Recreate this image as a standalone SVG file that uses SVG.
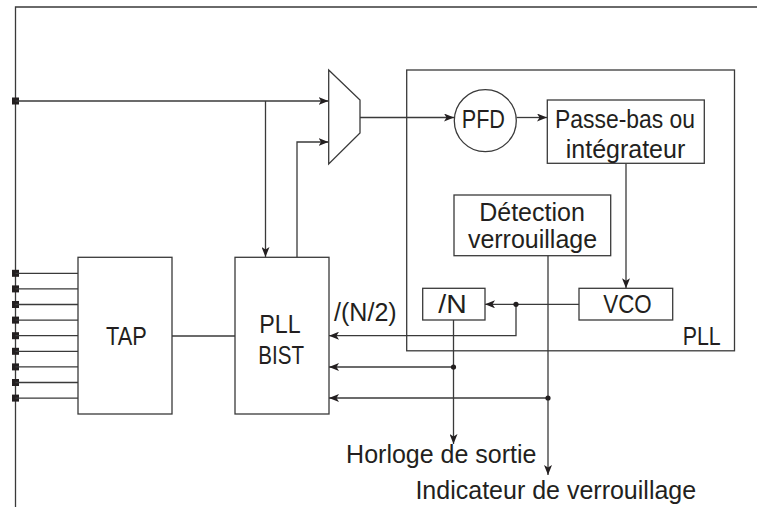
<svg xmlns="http://www.w3.org/2000/svg" width="757" height="507" viewBox="0 0 757 507">
<style>
.ln{fill:none;stroke:#3a3a3a;stroke-width:1.3}
.bx{fill:#fff;stroke:#3a3a3a;stroke-width:1.3}
.tx{font-family:"Liberation Sans",Arial,sans-serif;font-size:25px;fill:#231f20}
.pad{fill:#231f20}
.dot{fill:#231f20}
</style>
<defs>
<marker id="ah" markerUnits="userSpaceOnUse" markerWidth="10" markerHeight="8" viewBox="0 0 10 8" refX="10" refY="4" orient="auto">
<path d="M0,0 L10,4 L0,8 L2.5,4 z" fill="#231f20"/>
</marker>
</defs>
<rect width="757" height="507" fill="#fff"/>
<g id="frame">
<path class="ln" d="M757,7 H15.5 V507"/>
</g>
<g id="pads">
<rect class="pad" x="12" y="97.5" width="7" height="7"/>
<rect class="pad" x="12" y="269.8" width="7" height="7"/>
<rect class="pad" x="12" y="285.4" width="7" height="7"/>
<rect class="pad" x="12" y="301" width="7" height="7"/>
<rect class="pad" x="12" y="316.6" width="7" height="7"/>
<rect class="pad" x="12" y="332.2" width="7" height="7"/>
<rect class="pad" x="12" y="347.8" width="7" height="7"/>
<rect class="pad" x="12" y="363.4" width="7" height="7"/>
<rect class="pad" x="12" y="379" width="7" height="7"/>
<rect class="pad" x="12" y="394.6" width="7" height="7"/>
</g>
<g id="connectors">
<path class="ln" d="M15.5,273.3 H78 M15.5,288.9 H78 M15.5,304.5 H78 M15.5,320.1 H78 M15.5,335.7 H78 M15.5,351.3 H78 M15.5,366.9 H78 M15.5,382.5 H78 M15.5,398.1 H78"/>
<path class="ln" d="M15.5,101 H328.5" marker-end="url(#ah)"/>
<path class="ln" d="M265.5,101 V257" marker-end="url(#ah)"/>
<path class="ln" d="M297,257 V142 H328.5" marker-end="url(#ah)"/>
<path class="ln" d="M360,117.5 H454" marker-end="url(#ah)"/>
<path class="ln" d="M516.5,117.5 H547" marker-end="url(#ah)"/>
<path class="ln" d="M626,163.3 V288.3" marker-end="url(#ah)"/>
<path class="ln" d="M579,304.3 H485" marker-end="url(#ah)"/>
<path class="ln" d="M516,304.3 V335.7 H329" marker-end="url(#ah)"/>
<path class="ln" d="M453.5,320 V444" marker-end="url(#ah)"/>
<path class="ln" d="M453.5,367 H329" marker-end="url(#ah)"/>
<path class="ln" d="M548,255.7 V475" marker-end="url(#ah)"/>
<path class="ln" d="M548,398 H329" marker-end="url(#ah)"/>
<path class="ln" d="M172,336 H235"/>
<circle class="dot" cx="516" cy="304.3" r="2.6"/>
<circle class="dot" cx="453.5" cy="367" r="2.6"/>
<circle class="dot" cx="548" cy="398" r="2.6"/>
</g>
<g id="pll">
<rect class="ln" x="406.7" y="70" width="327.8" height="280.8"/>
<text class="tx" x="682.7" y="345" textLength="38" lengthAdjust="spacingAndGlyphs">PLL</text>
</g>
<g id="mux">
<polygon class="bx" points="328.7,70 360,100 360,133 328.7,164"/>
</g>
<g id="tap">
<rect class="bx" x="78" y="257.3" width="94" height="156.7"/>
<text class="tx" x="106" y="345" textLength="40.7" lengthAdjust="spacingAndGlyphs">TAP</text>
</g>
<g id="bist">
<rect class="bx" x="235" y="257.3" width="94" height="156.7"/>
<text class="tx" x="259.3" y="332.7" textLength="41.4" lengthAdjust="spacingAndGlyphs">PLL</text>
<text class="tx" x="258.3" y="364.3" textLength="45.7" lengthAdjust="spacingAndGlyphs">BIST</text>
</g>
<g id="pfd">
<circle class="bx" cx="485.3" cy="120.7" r="31"/>
<text class="tx" x="461.7" y="128.3" textLength="43.3" lengthAdjust="spacingAndGlyphs">PFD</text>
</g>
<g id="filter">
<rect class="bx" x="547.3" y="100" width="157" height="63.3"/>
<text class="tx" x="555" y="128" textLength="140" lengthAdjust="spacingAndGlyphs">Passe-bas ou</text>
<text class="tx" x="625.5" y="158" text-anchor="middle">intégrateur</text>
</g>
<g id="lockdet">
<rect class="bx" x="454" y="195" width="156.7" height="60.7"/>
<text class="tx" x="532" y="221" text-anchor="middle">Détection</text>
<text class="tx" x="532.5" y="248.3" text-anchor="middle">verrouillage</text>
</g>
<g id="divn">
<rect class="bx" x="422.7" y="288.3" width="62.3" height="31.7"/>
<text class="tx" x="438.3" y="313.3" textLength="28.4" lengthAdjust="spacingAndGlyphs">/N</text>
</g>
<g id="vco">
<rect class="bx" x="579" y="288.3" width="93.7" height="31.7"/>
<text class="tx" x="603.3" y="313.3" textLength="48.4" lengthAdjust="spacingAndGlyphs">VCO</text>
</g>
<g id="labels">
<text class="tx" x="334" y="320.7" textLength="62.7" lengthAdjust="spacingAndGlyphs">/(N/2)</text>
<text class="tx" x="441.3" y="463.3" text-anchor="middle">Horloge de sortie</text>
<text class="tx" x="555.8" y="499" text-anchor="middle">Indicateur de verrouillage</text>
</g>
</svg>
